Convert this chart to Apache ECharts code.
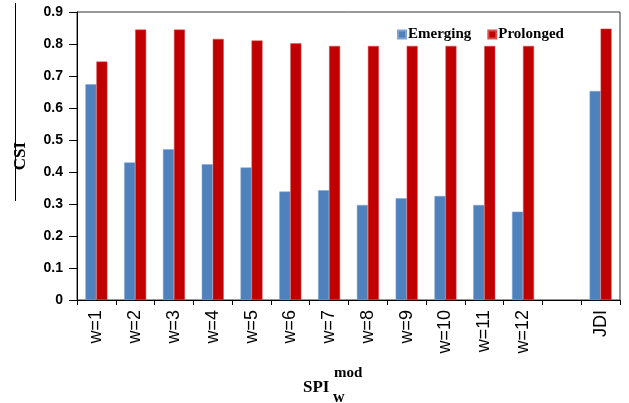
<!DOCTYPE html>
<html>
<head>
<meta charset="utf-8">
<script src="https://cdn.jsdelivr.net/npm/echarts@6/dist/echarts.min.js"></script>
<style>
  html, body { margin: 0; padding: 0; background: #fff; }
  #chart { width: 629px; height: 403px; }
</style>
</head>
<body>
<div id="chart"></div>
<script>
// Categories along the x axis (blank slot separates the SPI windows from JDI)
const categories = ['w=1', 'w=2', 'w=3', 'w=4', 'w=5', 'w=6', 'w=7', 'w=8', 'w=9', 'w=10', 'w=11', 'w=12', '', 'JDI'];
// CSI values per category
const emerging  = [0.674, 0.430, 0.471, 0.424, 0.414, 0.339, 0.343, 0.297, 0.318, 0.325, 0.297, 0.276, null, 0.653];
const prolonged = [0.745, 0.845, 0.845, 0.816, 0.811, 0.802, 0.794, 0.794, 0.794, 0.794, 0.794, 0.794, null, 0.848];
// Y axis range
const yMin = 0, yMax = 0.9, yStep = 0.1;

const chart = echarts.init(document.getElementById('chart'), null, { renderer: 'canvas' });

const serif = '"Liberation Serif", "Times New Roman", serif';
const sans = '"Liberation Sans", Arial, sans-serif';

chart.setOption({
  animation: false,
  backgroundColor: '#ffffff',
  grid: {
    left: 77, right: 9, top: 12, bottom: 103,
    show: true, borderColor: '#333', borderWidth: 1, backgroundColor: 'transparent'
  },
  legend: {
    left: 392, top: 22,
    itemWidth: 8, itemHeight: 8, itemGap: 16,
    icon: 'rect',
    textStyle: { fontFamily: serif, fontWeight: 'bold', fontSize: 15, color: '#000', padding: [0, 0, 0, -3] },
    data: ['Emerging', 'Prolonged']
  },
  xAxis: {
    type: 'category',
    data: categories,
    axisLine: { lineStyle: { color: '#000', width: 1 } },
    axisTick: { show: true, length: 5, lineStyle: { color: '#000' } },
    axisLabel: {
      rotate: 90, margin: 10, interval: 0,
      fontFamily: sans, fontSize: 18, color: '#000'
    },
    splitLine: { show: false }
  },
  yAxis: {
    type: 'value',
    min: yMin, max: yMax, interval: yStep,
    name: 'CSI',
    nameLocation: 'middle',
    nameRotate: 90,
    nameGap: 48,
    nameTextStyle: { fontFamily: serif, fontWeight: 'bold', fontSize: 17, color: '#000' },
    axisLine: { show: true, lineStyle: { color: '#000', width: 1 } },
    axisTick: { show: true, length: 8, lineStyle: { color: '#000' } },
    axisLabel: {
      margin: 14, fontFamily: sans, fontWeight: 'bold', fontSize: 14, color: '#000',
      formatter: v => (Math.round(v * 10) / 10).toString()
    },
    splitLine: { show: false }
  },
  series: [
    {
      name: 'Emerging', type: 'bar', data: emerging,
      barWidth: 11, barGap: '0%',
      itemStyle: { color: '#4F81BD', borderColor: '#7fa3d3', borderWidth: 0.5 }
    },
    {
      name: 'Prolonged', type: 'bar', data: prolonged,
      barWidth: 11, barGap: '0%',
      itemStyle: { color: '#C00000', borderColor: '#d85050', borderWidth: 0.5 }
    }
  ],
  graphic: [
    // rule beside the y-axis title
    { type: 'line', shape: { x1: 15.5, y1: 3, x2: 15.5, y2: 201 }, style: { stroke: '#000', lineWidth: 1 } },
    // x-axis title: SPI with subscript w and superscript mod
    { type: 'text', left: 303, top: 379, style: { text: 'SPI', font: 'bold 17px ' + serif, fill: '#000' } },
    { type: 'text', left: 334, top: 366, style: { text: 'mod', font: 'bold 15px ' + serif, fill: '#000' } },
    { type: 'text', left: 333, top: 390, style: { text: 'w', font: 'bold 16px ' + serif, fill: '#000' } }
  ]
});
</script>
</body>
</html>
